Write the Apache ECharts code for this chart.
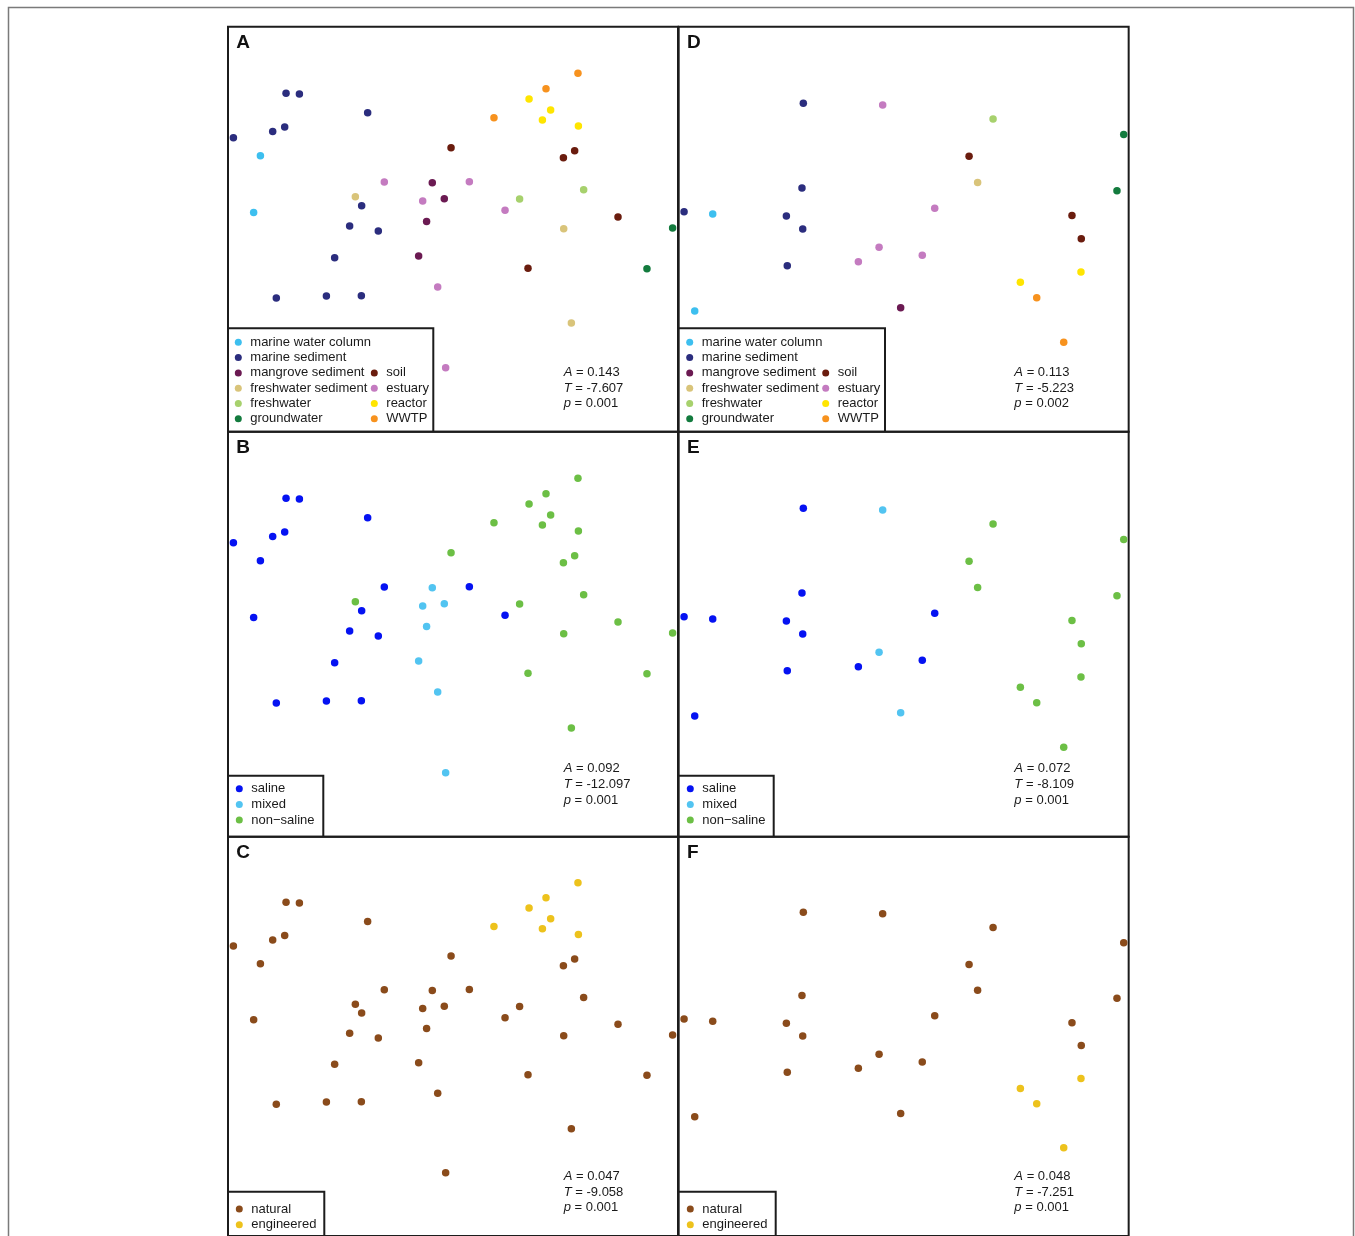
<!DOCTYPE html>
<html>
<head>
<meta charset="utf-8">
<script src="https://cdn.jsdelivr.net/npm/echarts@6/dist/echarts.min.js"></script>
<style>
  html, body { margin: 0; padding: 0; background: #ffffff; }
  #chart { width: 1355px; height: 1236px; }
</style>
</head>
<body>
<div id="chart"></div>
<script>
// ---- categories -----------------------------------------------------------
const habitats = ['marine water column', 'marine sediment', 'mangrove sediment',
  'freshwater sediment', 'freshwater', 'groundwater', 'soil', 'estuary', 'reactor', 'WWTP'];
const habitatColors = ['#3DBFEF', '#2B2D7E', '#6B1A52', '#D9C47A', '#A7D16D',
  '#137B3E', '#6A1C0E', '#C47BC0', '#FFE500', '#F7921E'];

const salinityGroups = ['saline', 'mixed', 'non\u2212saline'];
const salinityColors = ['#0512F2', '#52C4F1', '#6CBF45'];

const originGroups = ['natural', 'engineered'];
const originColors = ['#8A4B1B', '#EDC21C'];
const engineeredHabitats = ['reactor', 'WWTP'];

// ---- ordination of the full site set (panels A-C) ---------------------------
const fullNMDS1 = [
  -1.284, -1.329,
  -1.113, -1.024, -0.569, -1.202, -1.122, -1.464, -0.609, -0.689, -0.498, -0.789, -1.178, -0.844, -0.611,
  -0.138, -0.058, -0.176, -0.229,
  -0.651, 0.738, 0.789,
  0.444, 0.871,
  1.464, 1.293,
  -0.013, 0.736, 0.811, 1.100, 0.500,
  -0.458, 0.109, -0.202, 0.347, -0.102, -0.049,
  0.507, 0.651, 0.596, 0.836,
  0.833, 0.620, 0.273
];
const fullNMDS2 = [
  0.491, 0.113,
  0.907, 0.902, 0.778, 0.653, 0.682, 0.611, 0.158, 0.022, -0.011, -0.189, -0.458, -0.444, -0.442,
  0.311, 0.204, 0.053, -0.178,
  0.218, 0.004, -0.624,
  0.202, 0.264,
  0.009, -0.262,
  0.544, 0.478, 0.524, 0.082, -0.260,
  0.316, 0.318, 0.189, 0.127, -0.384, -0.922,
  0.869, 0.796, 0.729, 0.689,
  1.040, 0.938, 0.744
];
const fullHabitat = [
  0, 0,
  1, 1, 1, 1, 1, 1, 1, 1, 1, 1, 1, 1, 1,
  2, 2, 2, 2,
  3, 3, 3,
  4, 4,
  5, 5,
  6, 6, 6, 6, 6,
  7, 7, 7, 7, 7, 7,
  8, 8, 8, 8,
  9, 9, 9
];
// 0 saline, 1 mixed, 2 non-saline
const fullSalinity = [
  0, 0,
  0, 0, 0, 0, 0, 0, 0, 0, 0, 0, 0, 0, 0,
  1, 1, 1, 1,
  2, 2, 2,
  2, 2,
  2, 2,
  2, 2, 2, 2, 2,
  0, 0, 1, 0, 1, 1,
  2, 2, 2, 2,
  2, 2, 2
];

// ---- ordination of the reduced site set (panels D-F) ------------------------
const subNMDS1 = [
  -1.273, -1.393,
  -0.669, -0.678, -1.464, -0.782, -0.673, -0.776,
  -0.020,
  0.493,
  0.596,
  1.467, 1.422,
  0.436, 1.122, 1.184,
  -0.140, 0.207, -0.164, -0.302, 0.124,
  0.778, 1.182,
  0.887, 1.067
];
const subNMDS2 = [
  0.102, -0.544,
  0.840, 0.276, 0.118, 0.089, 0.002, -0.242,
  -0.522,
  0.313,
  0.736,
  0.633, 0.258,
  0.487, 0.093, -0.062,
  0.829, 0.140, -0.120, -0.216, -0.173,
  -0.353, -0.284,
  -0.456, -0.753
];
const subHabitat = [
  0, 0,
  1, 1, 1, 1, 1, 1,
  2,
  3,
  4,
  5, 5,
  6, 6, 6,
  7, 7, 7, 7, 7,
  8, 8,
  9, 9
];
const subSalinity = [
  0, 0,
  0, 0, 0, 0, 0, 0,
  1,
  2,
  2,
  2, 2,
  2, 2, 2,
  1, 0, 1, 0, 0,
  2, 2,
  2, 2
];

// ---- MRPP statistics, panels A-F ------------------------------------------
const panelLetters = ['A', 'B', 'C', 'D', 'E', 'F'];
const statA = [0.143, 0.092, 0.047, 0.113, 0.072, 0.048];
const statT = [-7.607, -12.097, -9.058, -5.223, -8.109, -7.251];
const statP = [0.001, 0.001, 0.001, 0.002, 0.001, 0.001];

// ---- layout ---------------------------------------------------------------
const FONT = '"Liberation Sans", Arial, Helvetica, sans-serif';
const INK = '#1a1a1a';
const colLeft = [228, 678.67];
const panelW = 450;
const rowTop = [26.83, 431.83, 836.83];
const panelH = 405;

const grids = [], xAxes = [], yAxes = [], series = [], legends = [], graphics = [];

// panel index p: 0..2 left column (A,B,C), 3..5 right column (D,E,F)
for (let p = 0; p < 6; p++) {
  const col = p < 3 ? 0 : 1, row = p % 3;
  grids.push({
    left: colLeft[col], top: rowTop[row], width: panelW, height: panelH,
    show: true, borderColor: '#1c1c1c', borderWidth: 2, backgroundColor: 'transparent'
  });
  const hidden = { show: false };
  xAxes.push({ type: 'value', gridIndex: p, min: -1.5, max: 1.5,
    axisLine: hidden, axisTick: hidden, axisLabel: hidden, splitLine: hidden });
  yAxes.push({ type: 'value', gridIndex: p, min: -1.35, max: 1.35,
    axisLine: hidden, axisTick: hidden, axisLabel: hidden, splitLine: hidden });
}

function addSeries(p, xs, ys, groupOf, names, colors) {
  names.forEach((name, k) => {
    const data = [];
    for (let i = 0; i < xs.length; i++) {
      if (groupOf(i) === k) data.push([xs[i], ys[i]]);
    }
    series.push({
      type: 'scatter', name, xAxisIndex: p, yAxisIndex: p, data,
      symbol: 'circle', symbolSize: 7.5,
      itemStyle: { color: colors[k], opacity: 1 },
      emphasis: { disabled: true }, silent: true
    });
  });
}

const originOf = (hab) => (engineeredHabitats.includes(habitats[hab]) ? 1 : 0);

addSeries(0, fullNMDS1, fullNMDS2, i => fullHabitat[i], habitats, habitatColors);
addSeries(1, fullNMDS1, fullNMDS2, i => fullSalinity[i], salinityGroups, salinityColors);
addSeries(2, fullNMDS1, fullNMDS2, i => originOf(fullHabitat[i]), originGroups, originColors);
addSeries(3, subNMDS1, subNMDS2, i => subHabitat[i], habitats, habitatColors);
addSeries(4, subNMDS1, subNMDS2, i => subSalinity[i], salinityGroups, salinityColors);
addSeries(5, subNMDS1, subNMDS2, i => originOf(subHabitat[i]), originGroups, originColors);

// dotX is the centre of the legend dots; the group is laid out from the dot's left edge
function legendBlock(names, dotX, top, pitch) {
  return {
    data: names, orient: 'vertical', left: dotX - 3.5, top, padding: 0, itemGap: 0,
    itemWidth: 14, itemHeight: 7, icon: 'circle', selectedMode: false,
    textStyle: { fontSize: 13, fontFamily: FONT, color: INK, lineHeight: pitch, padding: 0 }
  };
}

// habitat legends (two columns each)
legends.push(legendBlock(habitats.slice(0, 6), 238.3, 334.65, 15.3));
legends.push(legendBlock(habitats.slice(6), 374.3, 365.25, 15.3));
legends.push(legendBlock(habitats.slice(0, 6), 689.7, 334.65, 15.3));
legends.push(legendBlock(habitats.slice(6), 825.7, 365.25, 15.3));
// salinity legends
legends.push(legendBlock(salinityGroups, 239.3, 780.9, 15.65));
legends.push(legendBlock(salinityGroups, 690.3, 780.9, 15.65));
// origin legends
legends.push(legendBlock(originGroups, 239.3, 1201.2, 15.7));
legends.push(legendBlock(originGroups, 690.3, 1201.2, 15.7));

// outer figure frame
graphics.push({
  type: 'rect', z: -10, silent: true,
  shape: { x: 8.5, y: 7.5, width: 1345, height: 1320 },
  style: { fill: 'none', stroke: '#7a7a7a', lineWidth: 1.5 }
});

// legend box edges (top and right; left/bottom coincide with the panel frame)
const legendBoxes = [
  { top: 328.3, right: 433.3, bottom: rowTop[0] + panelH },
  { top: 775.7, right: 323.3, bottom: rowTop[1] + panelH },
  { top: 1191.8, right: 324.3, bottom: rowTop[2] + panelH },
  { top: 328.3, right: 885.0, bottom: rowTop[0] + panelH },
  { top: 775.7, right: 773.7, bottom: rowTop[1] + panelH },
  { top: 1191.8, right: 775.7, bottom: rowTop[2] + panelH }
];
legendBoxes.forEach((b, p) => {
  const left = colLeft[p < 3 ? 0 : 1];
  graphics.push({
    type: 'polyline', silent: true, z: 10,
    shape: { points: [[left, b.top], [b.right, b.top], [b.right, b.bottom]] },
    style: { fill: 'none', stroke: '#1c1c1c', lineWidth: 2 }
  });
});

// panel letters and statistics
const statRowCenter = [345.6, 336.9, 339.7]; // first text row, relative to panel top
for (let p = 0; p < 6; p++) {
  const col = p < 3 ? 0 : 1, row = p % 3;
  graphics.push({
    type: 'text', silent: true, z: 20,
    x: colLeft[col] + 8.3, y: rowTop[row] + 16.3,
    style: {
      text: panelLetters[p], fill: '#111111',
      fontFamily: FONT, fontWeight: 'bold', fontSize: 19,
      align: 'left', verticalAlign: 'middle'
    }
  });
  const lines = [
    '{i|A} = ' + statA[p].toFixed(3),
    '{i|T} = ' + statT[p].toFixed(3),
    '{i|p} = ' + statP[p].toFixed(3)
  ].join('\n');
  graphics.push({
    type: 'text', silent: true, z: 20,
    x: colLeft[col] + 335.7, y: rowTop[row] + statRowCenter[row] - 7.83,
    style: {
      text: lines, fill: INK, fontFamily: FONT, fontSize: 13, lineHeight: 15.67,
      align: 'left', verticalAlign: 'top',
      rich: {
        i: { fontStyle: 'italic', fontFamily: FONT, fontSize: 13, fill: INK, lineHeight: 15.67 }
      }
    }
  });
}

const chart = echarts.init(document.getElementById('chart'), null, { renderer: 'canvas' });
chart.setOption({
  animation: false,
  backgroundColor: '#ffffff',
  grid: grids,
  xAxis: xAxes,
  yAxis: yAxes,
  legend: legends,
  tooltip: { show: false },
  series,
  graphic: { elements: graphics }
});
</script>
</body>
</html>
